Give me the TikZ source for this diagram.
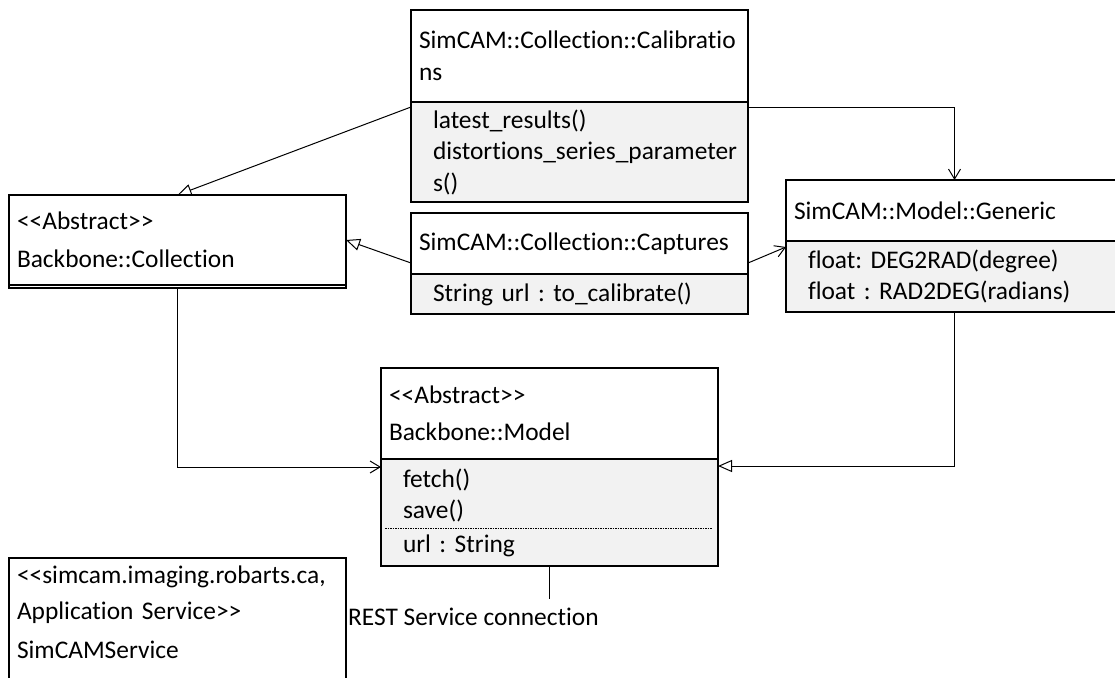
\documentclass[tikz,border=0pt]{standalone}
\usepackage{fontspec}
\setmainfont{Carlito}[Ligatures={CommonOff,ContextualOff,RareOff}, RawFeature={-liga;-clig;-calt}]
\usepackage{tikz}
\usetikzlibrary{shapes,arrows,arrows.meta,positioning}
\definecolor{compgray}{HTML}{F2F2F2}
\newcommand{\stereo}[1]{<\kern0pt<#1>\kern0pt>}
\frenchspacing

\begin{document}
\begin{tikzpicture}[x=1pt,y=1pt,font=\fontsize{25.4}{31.5}\selectfont]
\tikzset{
	head/.style={draw, line width=1.1pt, fill=white, outer sep=0pt, inner xsep=8pt, inner ysep=0pt, text width=321pt, align=left},
	comp/.style={head, fill=compgray, execute at begin node={\leftskip=14pt}},
	gen/.style={line width=1pt, -{Triangle[open,length=14pt,width=12pt]}},
	assoc/.style={line width=1pt, -{Straight Barb[length=10pt,width=12pt]}}
}
\useasboundingbox (0,0) rectangle (1115,-677);
\clip (0,0) rectangle (1115,-677);
\fill[white] (0,0) rectangle (1115,-677);

% classes
\node[head, anchor=north west, minimum height=92pt] (Cal) at (411,-10) {SimCAM::Collection::Calibratio\\ns};
\node[comp, below=0pt of Cal, minimum height=100pt] (Cal1) {latest\_results()\\distortions\_series\_parameter\\s()};

\node[head, anchor=north west, minimum height=61pt] (Cap) at (411,-213) {SimCAM::Collection::Captures};
\node[comp, below=0pt of Cap, minimum height=40pt] (Cap1) {String url : to\_calibrate()};

\node[head, anchor=north west, minimum height=90pt] (Col) at (9,-195) {\stereo{Abstract}\\[7pt]Backbone::Collection};
\node[head, below=0pt of Col, minimum height=3pt] (Col1) {};

\node[head, anchor=north west, minimum height=61pt] (Gen) at (786,-180) {SimCAM::Model::Generic};
\node[comp, below=0pt of Gen, minimum height=71pt] (Gen1) {float: DEG2RAD(degree)\\float : RAD2DEG(radians)};

\node[head, anchor=north west, minimum height=91pt] (Mod) at (381,-368) {\stereo{Abstract}\\[6pt]Backbone::Model};
\node[comp, below=0pt of Mod, minimum height=107pt] (Mod1) {fetch()\\save()\\[2pt]url : String};
\draw[line width=0.8pt, dash pattern=on 1.5pt off 1pt] ([xshift=4pt,yshift=-69pt]Mod1.north west) -- ([xshift=-6pt,yshift=-69pt]Mod1.north east);

\node[head, anchor=north west, inner ysep=8pt, text depth=140pt] (Srv) at (9,-558) {<\kern0pt<simcam.imaging.robarts.ca,\\[4pt]Application Service>\kern0pt>\\[8pt]SimCAMService};

% connectors
\draw[gen] ([yshift=-5pt]Cal1.north west) -- (Col.north);
\draw[gen] ([yshift=11pt]Cap1.north west) -- (Col.east);
\draw[assoc] ([yshift=-5pt]Cal1.north east) -| (Gen.north);
\draw[assoc] ([yshift=11pt]Cap1.north east) -- ([yshift=-6pt]Gen1.north west);
\draw[assoc] (Col1.south) |- ([yshift=-8pt]Mod1.north west);
\draw[gen] (Gen1.south) |- ([yshift=-7pt]Mod1.north east);

\coordinate (Rest) at ([yshift=-33pt]Mod1.south);
\draw[line width=1pt] (Mod1.south) -- (Rest);
\node[anchor=west, inner sep=0pt] (RestLbl) at (348,-617) {REST Service connection};
\end{tikzpicture}
\end{document}
